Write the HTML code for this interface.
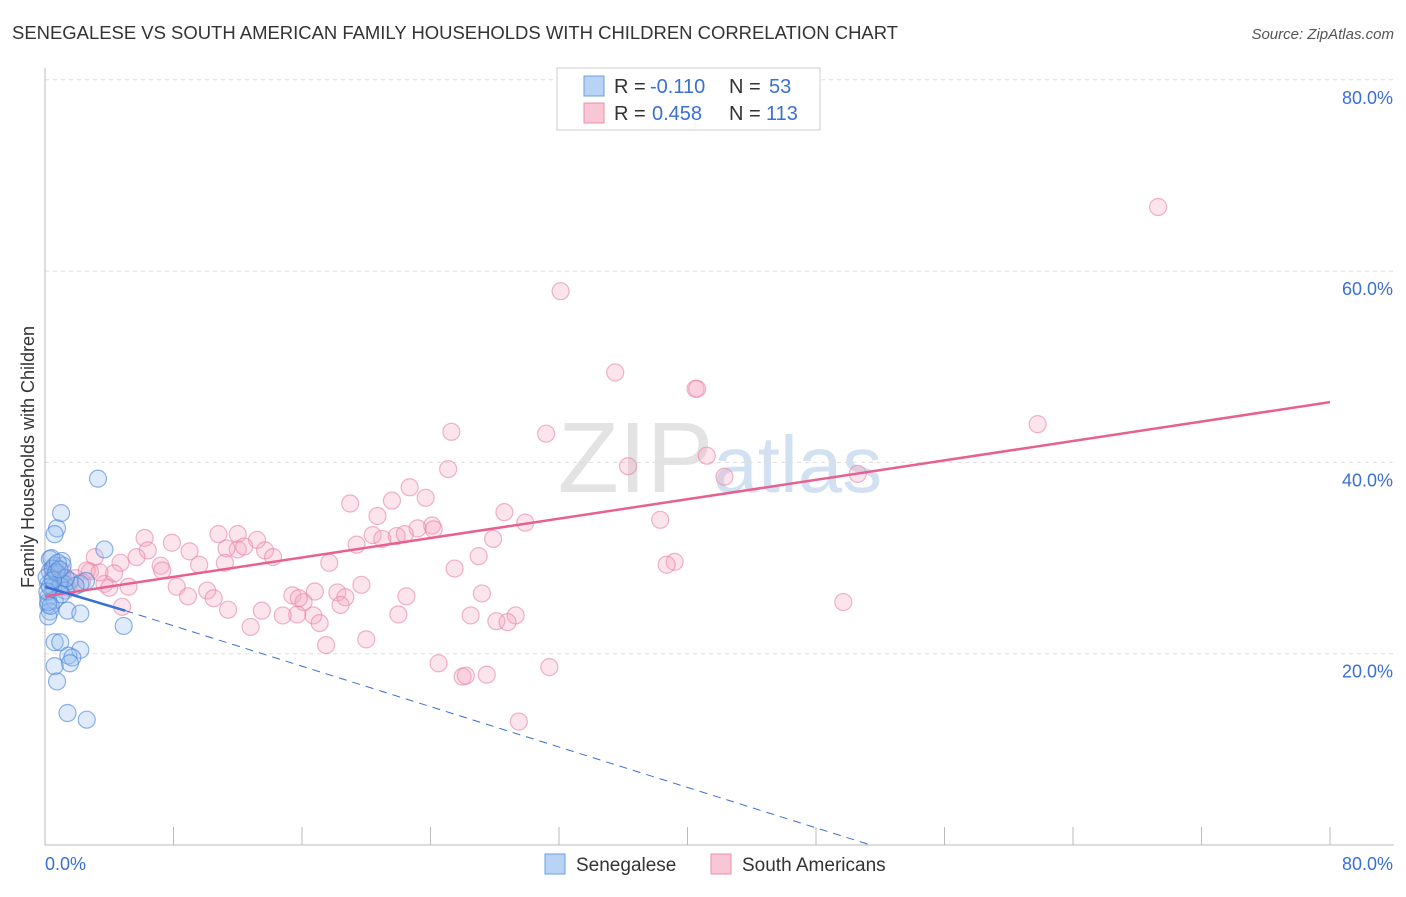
<!DOCTYPE html>
<html><head><meta charset="utf-8"><style>
body{margin:0;background:#fff;font-family:"Liberation Sans",sans-serif;}
svg text{font-family:"Liberation Sans",sans-serif;}
</style></head><body>
<svg id="chart" width="1406" height="892" xmlns="http://www.w3.org/2000/svg">
<text x="12" y="39" font-size="18" fill="#333" textLength="886" lengthAdjust="spacingAndGlyphs">SENEGALESE VS SOUTH AMERICAN FAMILY HOUSEHOLDS WITH CHILDREN CORRELATION CHART</text>
<text x="1394" y="39" font-size="15" fill="#555" font-style="italic" text-anchor="end">Source: ZipAtlas.com</text>
<text transform="translate(34,457) rotate(-90)" font-size="18" fill="#333" text-anchor="middle">Family Households with Children</text>
<text x="720" y="492" font-size="100" fill="#ddd" text-anchor="middle" font-family="Liberation Serif" opacity="0.8">ZIP<tspan fill="#c8daf0" font-family="Liberation Sans" font-size="80">atlas</tspan></text>
<g id="grid"></g><g id="marks"></g>
<g>
<rect x="557" y="68" width="263" height="62" fill="#fff" stroke="#ccc"/>
<rect x="584" y="76" width="20" height="20" fill="#b9d3f5" stroke="#6d9fe0"/>
<rect x="584" y="103" width="20" height="20" fill="#f9c6d6" stroke="#ec8fae"/>
<text x="614" y="93" font-size="20" fill="#333">R =</text>
<text x="650" y="93" font-size="20" fill="#3a6fd6">-0.110</text>
<text x="729" y="93" font-size="20" fill="#333">N =</text>
<text x="769" y="93" font-size="20" fill="#3a6fd6">53</text>
<text x="614" y="120" font-size="20" fill="#333">R =</text>
<text x="652" y="120" font-size="20" fill="#3a6fd6">0.458</text>
<text x="729" y="120" font-size="20" fill="#333">N =</text>
<text x="766" y="120" font-size="20" fill="#3a6fd6">113</text>
</g>
<g>
<rect x="545" y="854" width="20" height="20" fill="#b9d3f5" stroke="#6d9fe0"/>
<text x="576" y="871" font-size="19" fill="#333">Senegalese</text>
<rect x="711" y="854" width="20" height="20" fill="#f9c6d6" stroke="#ec8fae"/>
<text x="742" y="871" font-size="19" fill="#333">South Americans</text>
</g>
</svg>
<script>
const yTicks=[20,40,60,80];
const yTickLabels=["20.0%","40.0%","60.0%","80.0%"];
const xTicks=[0,8,16,24,32,40,48,56,64,72,80];
const blueX=[3.3,1.0,0.75,0.6,3.7,0.3,1.05,0.6,1.1,0.3,0.8,0.45,0.95,0.2,0.5,1.2,1.55,2.2,2.55,0.2,0.6,0.2,0.3,0.2,1.4,2.2,4.9,0.6,0.95,2.2,1.45,1.7,1.55,0.6,0.75,1.4,2.6,0.95,1.25,1.9,0.4,0.1,0.5,0.8,1.0,0.3,0.2,0.7,1.3,0.15,0.5,0.9,0.35];
const blueY=[38.3,34.7,33.1,32.5,30.9,29.9,29.7,29.2,29.2,28.6,28.3,27.9,27.6,27.3,26.9,27.3,27.6,27.3,27.6,25.9,25.6,25.1,24.4,23.9,24.5,24.2,22.9,21.2,21.2,20.4,19.8,19.6,19.0,18.7,17.1,13.8,13.1,27.1,26.6,27.1,30.0,28.0,28.9,29.5,26.2,27.0,25.4,28.5,27.9,26.5,27.7,28.8,25.0];
const pinkX=[69.3,32.1,35.5,40.5,40.6,25.3,31.2,61.8,41.2,36.3,25.1,42.3,50.6,22.7,19.0,21.6,23.7,28.6,20.7,38.3,29.9,24.1,23.2,21.9,20.4,21.0,24.2,6.2,10.8,12.0,13.2,7.9,12.0,13.7,6.4,9.0,27.9,19.4,22.4,3.1,5.7,14.2,11.3,12.4,7.2,4.7,9.6,11.2,17.7,27.0,39.2,38.7,25.5,3.7,5.2,8.2,10.1,16.8,19.7,27.2,2.8,1.9,4.0,8.9,10.5,15.4,16.1,18.2,18.7,11.4,13.5,18.4,22.5,16.7,17.1,15.7,14.8,15.8,49.7,22.0,26.5,29.3,28.1,28.8,12.8,17.5,20.0,24.5,26.0,26.2,27.5,31.4,29.5,7.3,1.1,0.8,1.4,1.1,2.6,3.4,4.3,4.8,2.3,0.95,0.45];
const pinkY=[66.7,57.9,49.4,47.7,47.7,43.2,43.0,44.0,40.7,39.6,39.3,38.5,38.8,37.4,35.7,36.0,36.3,34.8,34.4,34.0,33.7,33.4,33.1,32.3,32.4,32.0,33.0,32.1,32.5,32.5,31.9,31.6,30.9,30.8,30.8,30.7,32.0,31.4,32.5,30.1,30.1,30.1,31.0,31.2,29.2,29.5,29.3,29.5,29.5,30.2,29.6,29.3,28.9,27.3,27.0,27.0,26.6,26.5,27.2,26.3,28.6,27.9,26.9,26.0,25.8,26.1,25.4,26.4,25.9,24.6,24.5,25.1,26.0,24.0,23.2,24.1,24.0,25.8,25.4,24.1,24.0,24.0,23.4,23.3,22.8,20.9,21.5,19.0,17.6,17.7,17.8,18.6,12.9,28.7,28.0,27.2,26.9,28.6,28.7,28.5,28.4,24.9,27.5,28.2,28.9];
const X0=45,X1=1330,Y0=845,YS=9.565;
const sx=v=>X0+(X1-X0)*v/80, sy=v=>Y0-v*YS;
const NS="http://www.w3.org/2000/svg";
function mk(tag,attrs,parent){const e=document.createElementNS(NS,tag);for(const k in attrs)e.setAttribute(k,attrs[k]);parent.appendChild(e);return e;}
const grid=document.getElementById('grid'),marks=document.getElementById('marks');
yTicks.forEach((t,i)=>{
 const l=mk('line',{x1:X0,x2:1394,y1:sy(t),y2:sy(t),stroke:'#ddd','stroke-dasharray':'4,4'},grid);
 
 
 const tx=mk('text',{x:1393,y:sy(t)+24,'font-size':18,fill:'#3a6fd6','text-anchor':'end'},grid);
 tx.textContent=yTickLabels[i];
 
 
});
const ax=mk('line',{x1:X0,x2:X0,y1:68,y2:Y0,stroke:'#bbb'},grid);


const bx=mk('line',{x1:X0,x2:1394,y1:Y0,y2:Y0,stroke:'#bbb'},grid);


xTicks.forEach(t=>{const l=mk('line',{x1:sx(t),x2:sx(t),y1:827,y2:Y0,stroke:'#bbb'},grid);
 
 });
const xl0=mk('text',{x:45,y:870,'font-size':18,fill:'#3a6fd6'},grid);xl0.textContent='0.0%';


const xl1=mk('text',{x:1393,y:870,'font-size':18,fill:'#3a6fd6','text-anchor':'end'},grid);xl1.textContent='80.0%';


pinkX.forEach((v,i)=>{const c=mk('circle',{cx:sx(v),cy:sy(pinkY[i]),r:8.5,fill:'rgba(244,165,192,0.3)',stroke:'rgba(232,130,165,0.6)','stroke-width':1.2},marks);
 
 });
blueX.forEach((v,i)=>{const c=mk('circle',{cx:sx(v),cy:sy(blueY[i]),r:8.5,fill:'rgba(150,190,240,0.3)',stroke:'rgba(70,130,215,0.6)','stroke-width':1.2},marks);
 
 });
const pl=mk('line',{x1:sx(0),y1:sy(26.0),x2:sx(80),y2:sy(46.3),stroke:'#e8608f','stroke-width':2.5},marks);


const bl=mk('line',{x1:sx(0),y1:sy(27.0),x2:sx(5),y2:sy(24.5),stroke:'#3a6fd6','stroke-width':2.5},marks);


const bd=mk('line',{x1:sx(5),y1:sy(24.5),x2:sx(51.4),y2:sy(0),stroke:'#3a6fd6','stroke-width':1,'stroke-dasharray':'8,6'},marks);


</script>
</body></html>
